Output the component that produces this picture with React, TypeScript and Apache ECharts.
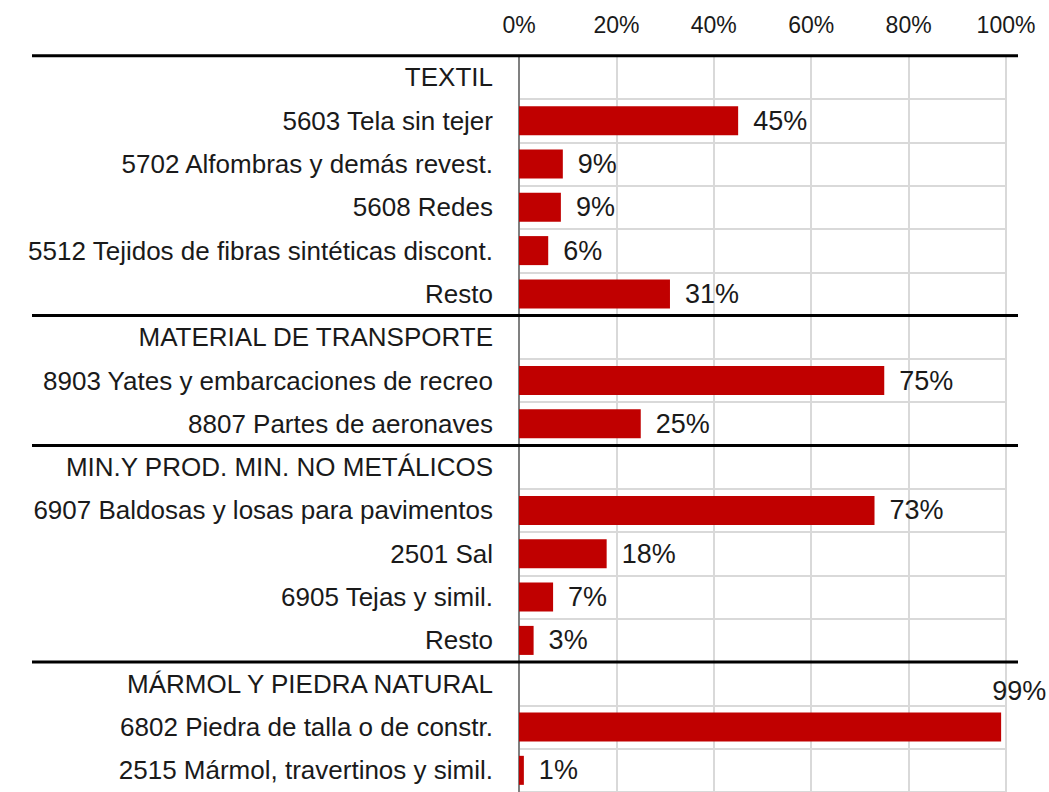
import React, { useEffect, useRef } from "react";
import * as echarts from "echarts";

const categories = [
  "TEXTIL",
  "5603 Tela sin tejer",
  "5702 Alfombras y demás revest.",
  "5608 Redes",
  "5512 Tejidos de fibras sintéticas discont.",
  "Resto",
  "MATERIAL DE TRANSPORTE",
  "8903 Yates y embarcaciones de recreo",
  "8807 Partes de aeronaves",
  "MIN.Y PROD. MIN. NO METÁLICOS",
  "6907 Baldosas y losas para pavimentos",
  "2501 Sal",
  "6905 Tejas y simil.",
  "Resto",
  "MÁRMOL Y PIEDRA NATURAL",
  "6802 Piedra de talla o de constr.",
  "2515 Mármol, travertinos y simil.",
];

// null = section header row (no bar)
const shares: (number | null)[] = [
  null, 45, 9, 8.6, 6, 31,
  null, 75, 25,
  null, 73, 18, 7, 3,
  null, 99, 1,
];

// indices of rows that start a section (separator drawn above them)
const sectionStarts = [0, 6, 9, 14];

const xTicks = [0, 20, 40, 60, 80, 100];

const FONT = "Liberation Sans, Arial, sans-serif";

export default function App() {
  const ref = useRef<HTMLDivElement>(null);
  useEffect(() => {
    if (!ref.current) return;
    const chart = echarts.init(ref.current, null, { renderer: "svg" });
    const data = shares.map((v, i) => {
      if (v === null) return { value: "-" };
      if (i === 15) {
        return {
          value: v,
          label: {
            position: ["100%", -22] as any,
            offset: [-9, 0],
            align: "left",
            verticalAlign: "middle",
          },
        };
      }
      return { value: v };
    });
    chart.setOption({
      animation: false,
      textStyle: { fontFamily: FONT },
      grid: { left: 519, right: 43, top: 55.7, height: 740, containLabel: false },
      xAxis: {
        type: "value",
        position: "top",
        min: xTicks[0],
        max: xTicks[xTicks.length - 1],
        interval: 20,
        axisLine: { show: false },
        axisTick: { show: false },
        axisLabel: {
          formatter: "{value}%",
          fontSize: 23,
          color: "#1a1a1a",
          fontFamily: FONT,
          margin: 19,
        },
        splitLine: { show: true, lineStyle: { color: "#D9D9D9", width: 2 } },
      },
      yAxis: {
        type: "category",
        inverse: true,
        data: categories,
        axisLine: { show: true, lineStyle: { color: "#808080", width: 2 } },
        axisTick: { show: false },
        axisLabel: {
          fontSize: 26,
          color: "#1a1a1a",
          fontFamily: FONT,
          margin: 26,
          interval: 0,
        },
        splitLine: { show: true, interval: 0, lineStyle: { color: "#D9D9D9", width: 2 } },
      },
      series: [
        {
          type: "bar",
          data,
          barCategoryGap: "33%",
          itemStyle: { color: "#C00000" },
          label: {
            show: true,
            position: "right",
            distance: 15,
            fontSize: 27,
            color: "#1a1a1a",
            fontFamily: FONT,
            formatter: (p: any) => Math.round(p.value) + "%",
          },
        },
      ],
    });
    const y0 = chart.convertToPixel({ yAxisIndex: 0 }, 0) as number;
    const y1 = chart.convertToPixel({ yAxisIndex: 0 }, 1) as number;
    const step = y1 - y0;
    const xEnd = (chart.convertToPixel({ xAxisIndex: 0 }, 100) as number) + 12;
    chart.setOption({
      graphic: sectionStarts.map((idx) => {
        const y = (chart.convertToPixel({ yAxisIndex: 0 }, idx) as number) - step / 2;
        return {
          type: "line",
          z: 100,
          shape: { x1: 32, y1: y, x2: xEnd, y2: y },
          style: { stroke: "#000", lineWidth: 3 },
        };
      }),
    });
    return () => chart.dispose();
  }, []);
  return (
    <div
      ref={ref}
      style={{ position: "fixed", left: 0, top: 0, width: 1049, height: 792, background: "#fff" }}
    />
  );
}
